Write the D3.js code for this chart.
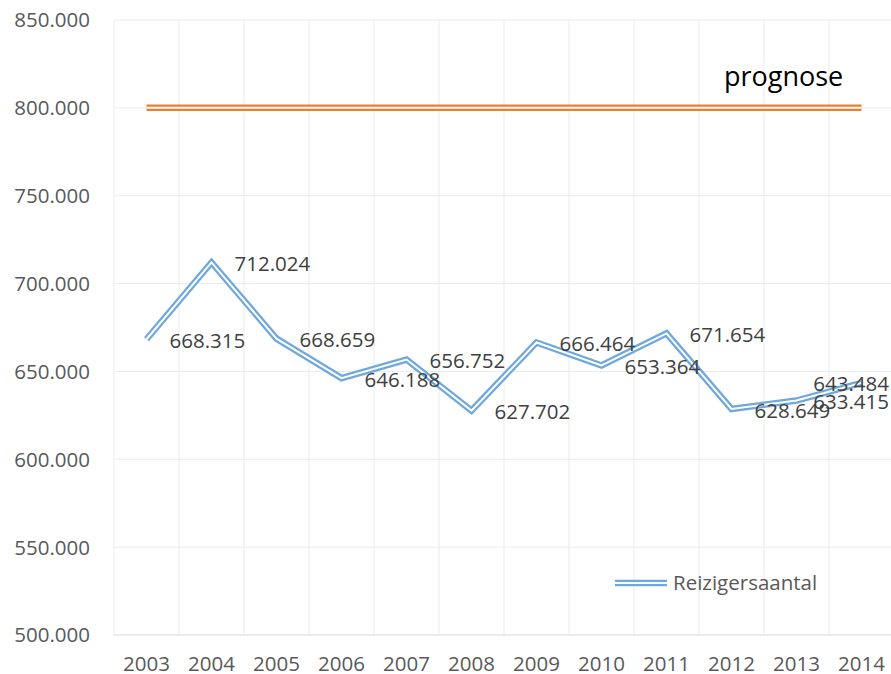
<!DOCTYPE html>
<html>
  <head>
    <script src="https://d3js.org/d3.v7.min.js"></script>
    <style>
      body { margin: 0; background: #fff; }
      svg { display: block; font-family: "Open Sans", sans-serif; }
    </style>
  </head>
  <body>
    <svg width="891" height="674"></svg>
    <script>
      const years = ["2003", "2004", "2005", "2006", "2007", "2008", "2009", "2010", "2011", "2012", "2013", "2014"];
      const reizigers = [668315, 712024, 668659, 646188, 656752, 627702, 666464, 653364, 671654, 628649, 633415, 643484];
      const prognose = [800000, 800000, 800000, 800000, 800000, 800000, 800000, 800000, 800000, 800000, 800000, 800000];
      const yTicks = [500000, 550000, 600000, 650000, 700000, 750000, 800000, 850000];

      const nl = d3.formatLocale({ decimal: ",", thousands: ".", grouping: [3], currency: ["€", ""] });
      const fmt = nl.format(",.0f");

      const svg = d3.select("svg");
      const x = d3.scaleBand().domain(years).range([114, 894]);
      const y = d3.scaleLinear().domain([500000, 850000]).range([635, 20]);
      const cx = d => x(d) + x.bandwidth() / 2;

      // gridlines
      svg.append("g").selectAll("line")
        .data(yTicks.slice(1))
        .enter().append("line")
        .attr("x1", 114).attr("x2", 894)
        .attr("y1", d => y(d)).attr("y2", d => y(d))
        .attr("stroke", "#ebebeb").attr("stroke-width", 1);

      svg.append("g").selectAll("line")
        .data(years)
        .enter().append("line")
        .attr("x1", d => x(d)).attr("x2", d => x(d))
        .attr("y1", y(850000)).attr("y2", y(500000))
        .attr("stroke", "#ebebeb").attr("stroke-width", 1);

      // bottom axis line
      svg.append("line")
        .attr("x1", 114).attr("x2", 894)
        .attr("y1", y(500000)).attr("y2", y(500000))
        .attr("stroke", "#d9d9d9").attr("stroke-width", 1);

      // y tick labels
      svg.append("g").selectAll("text")
        .data(yTicks)
        .enter().append("text")
        .attr("x", 90).attr("y", d => y(d)).attr("dy", "0.36em")
        .attr("text-anchor", "end")
        .attr("font-size", "20.5px").attr("fill", "#595959")
        .text(d => fmt(d));

      // x tick labels
      svg.append("g").selectAll("text")
        .data(years)
        .enter().append("text")
        .attr("x", d => cx(d)).attr("y", 671)
        .attr("text-anchor", "middle")
        .attr("font-size", "20.5px").attr("fill", "#595959")
        .text(d => d);

      const line = d3.line().x((d, i) => cx(years[i])).y(d => y(d));

      function doubleLine(data, color) {
        svg.append("path").datum(data)
          .attr("d", line).attr("fill", "none")
          .attr("stroke", color).attr("stroke-width", 6.5);
        svg.append("path").datum(data)
          .attr("d", line).attr("fill", "none")
          .attr("stroke", "#fff").attr("stroke-width", 2);
      }

      doubleLine(prognose, "#ED7D31");
      doubleLine(reizigers, "#6FA8DC");

      // data labels, kept inside the chart area like Excel does
      svg.append("g").selectAll("text")
        .data(reizigers)
        .enter().append("text")
        .attr("y", d => y(d)).attr("dy", "0.42em")
        .attr("font-size", "20.5px").attr("fill", "#404040")
        .text(d => fmt(d))
        .attr("x", function (d, i) {
          const w = this.getComputedTextLength();
          return Math.min(cx(years[i]) + 23, 889 - w);
        });

      svg.append("text")
        .attr("x", 724).attr("y", 86)
        .attr("font-size", "27px").attr("fill", "#000")
        .text("prognose");

      // legend
      const leg = svg.append("g").attr("transform", "translate(615,583)");
      leg.append("line").attr("x1", 0).attr("x2", 52)
        .attr("stroke", "#6FA8DC").attr("stroke-width", 6.5);
      leg.append("line").attr("x1", 0).attr("x2", 52)
        .attr("stroke", "#fff").attr("stroke-width", 2);
      leg.append("text").attr("x", 58).attr("dy", "0.36em")
        .attr("font-size", "20.5px").attr("fill", "#595959")
        .text("Reizigersaantal");
    </script>
  </body>
</html>
